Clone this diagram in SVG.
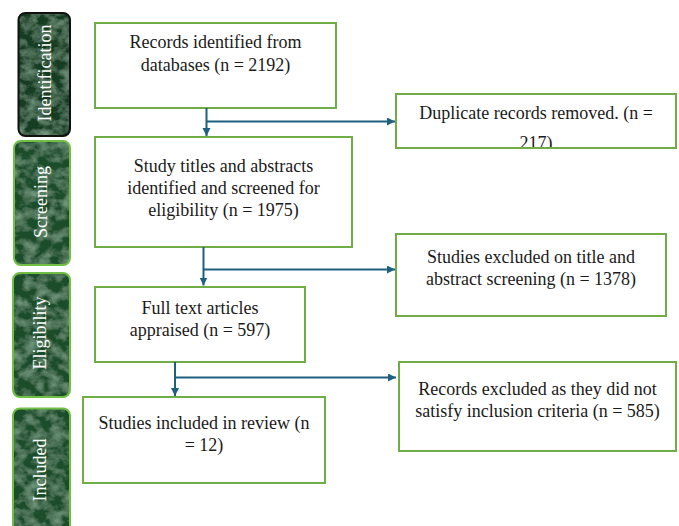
<svg xmlns="http://www.w3.org/2000/svg" width="679" height="526" viewBox="0 0 679 526">
<style>
.box{fill:#fff;stroke:#70ad47;stroke-width:2}
.t{font-family:"Liberation Serif","Times New Roman",serif;font-size:18px;fill:#1a1a1a;text-anchor:middle}
.side{font-family:"Liberation Serif","Times New Roman",serif;font-size:18px;fill:#fff;text-anchor:middle}
.bar{fill:#1c4d2c}
.con{fill:none;stroke:#1f5f80;stroke-width:2}
</style>
<defs>
<filter id="tex" x="0" y="0" width="100%" height="100%">
<feTurbulence type="fractalNoise" baseFrequency="0.08 0.1" numOctaves="4" seed="7" result="n"/>
<feColorMatrix in="n" type="matrix" values="0 0 0 0 0.30  0 0 0 0 0.52  0 0 0 0 0.36  1.1 0 0 0 -0.42" result="c"/>
<feComposite in="c" in2="SourceGraphic" operator="in" result="ci"/>
<feMerge><feMergeNode in="SourceGraphic"/><feMergeNode in="ci"/></feMerge>
</filter>
<marker id="ah" markerWidth="10" markerHeight="10" refX="8" refY="4" orient="auto" markerUnits="userSpaceOnUse">
<path d="M0,0 L8,4 L0,8 Z" fill="#1f5f80"/>
</marker>
<clipPath id="c2"><rect x="396" y="94" width="280" height="53"/></clipPath>
</defs>

<g id="side-identification">
<rect x="18.5" y="13" width="51.5" height="123" rx="7" fill="#163d24" filter="url(#tex)"/>
<rect x="18.5" y="13" width="51.5" height="123" rx="7" fill="none" stroke="#111" stroke-width="2"/>
<text class="side" transform="translate(51,73) rotate(-90)">Identification</text>
</g>
<g id="side-screening">
<rect x="14" y="141" width="56" height="124" rx="7" class="bar" filter="url(#tex)"/>
<rect x="14" y="141" width="56" height="124" rx="7" fill="none" stroke="#6fbf45" stroke-width="2"/>
<text class="side" transform="translate(46.5,202) rotate(-90)">Screening</text>
</g>
<g id="side-eligibility">
<rect x="13" y="273" width="57" height="124" rx="7" class="bar" filter="url(#tex)"/>
<rect x="13" y="273" width="57" height="124" rx="7" fill="none" stroke="#6fbf45" stroke-width="2"/>
<text class="side" transform="translate(45.5,333) rotate(-90)">Eligibility</text>
</g>
<g id="side-included">
<rect x="13" y="408.5" width="57" height="135" rx="7" class="bar" filter="url(#tex)"/>
<rect x="13" y="408.5" width="57" height="135" rx="7" fill="none" stroke="#6fbf45" stroke-width="2"/>
<text class="side" transform="translate(45.5,470) rotate(-90)">Included</text>
</g>

<g id="n1">
<rect class="box" x="95" y="23" width="241" height="85"/>
<text class="t" x="215.5" y="47.5">Records identified from</text>
<text class="t" x="215.5" y="71">databases (n = 2192)</text>
</g>
<g id="n2">
<rect class="box" x="396" y="94" width="280" height="54"/>
<g clip-path="url(#c2)">
<text class="t" x="536" y="118.5">Duplicate records removed. (n =</text>
<text class="t" x="536" y="148.5">217)</text>
</g>
</g>
<g id="n3">
<rect class="box" x="95" y="137" width="257" height="110"/>
<text class="t" x="223.5" y="171.5">Study titles and abstracts</text>
<text class="t" x="223.5" y="193.5">identified and screened for</text>
<text class="t" x="223.5" y="215.5">eligibility (n = 1975)</text>
</g>
<g id="n4">
<rect class="box" x="396" y="234" width="270" height="82"/>
<text class="t" x="531" y="262.5">Studies excluded on title and</text>
<text class="t" x="531" y="285">abstract screening (n = 1378)</text>
</g>
<g id="n5">
<rect class="box" x="95" y="287" width="210" height="75"/>
<text class="t" x="200" y="313.5">Full text articles</text>
<text class="t" x="200" y="335.5">appraised (n = 597)</text>
</g>
<g id="n6">
<rect class="box" x="399" y="362" width="277" height="89"/>
<text class="t" x="537.5" y="395">Records excluded as they did not</text>
<text class="t" x="537.5" y="417">satisfy inclusion criteria (n = 585)</text>
</g>
<g id="n7">
<rect class="box" x="83" y="397" width="242" height="86"/>
<text class="t" x="204" y="428.5">Studies included in review (n</text>
<text class="t" x="204" y="451">= 12)</text>
</g>

<g id="connectors">
<path class="con" d="M206.5,108 V136" marker-end="url(#ah)"/>
<path class="con" d="M206.5,121.5 H395" marker-end="url(#ah)"/>
<path class="con" d="M203.5,247 V285.5" marker-end="url(#ah)"/>
<path class="con" d="M203.5,269.5 H395" marker-end="url(#ah)"/>
<path class="con" d="M175,362 V396" marker-end="url(#ah)"/>
<path class="con" d="M175,377.5 H396" marker-end="url(#ah)"/>
</g>
</svg>
